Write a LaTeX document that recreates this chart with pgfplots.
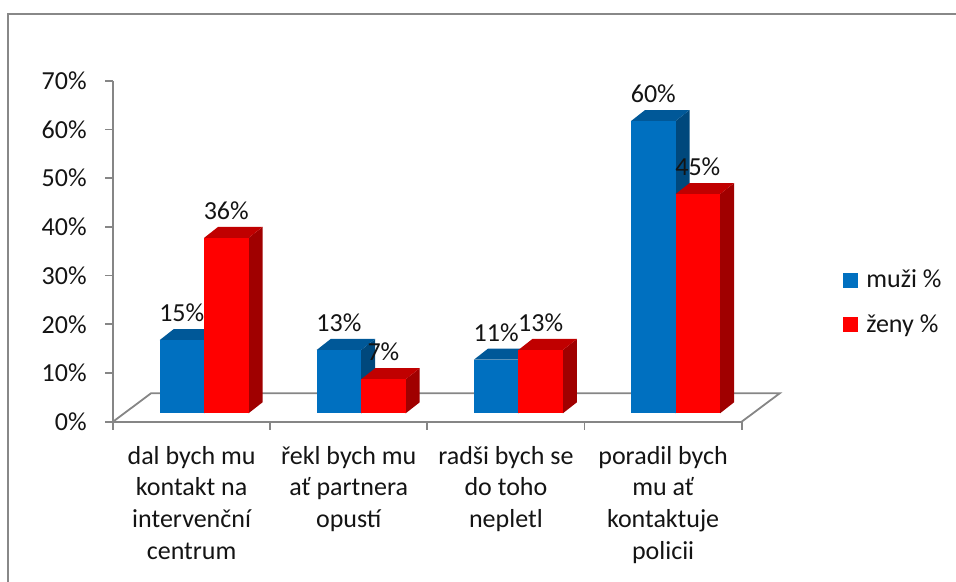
\documentclass[border=0pt]{standalone}
\usepackage{pgfplots}
\usepackage{pgfplotstable}
\pgfplotsset{compat=1.18}
\usepackage{fontspec}
\setmainfont{Carlito}

\definecolor{barblue}{RGB}{0,112,192}
\definecolor{barbluetop}{RGB}{0,88,152}
\definecolor{barblueside}{RGB}{0,72,124}
\definecolor{barred}{RGB}{255,0,0}
\definecolor{barredtop}{RGB}{192,0,0}
\definecolor{barredside}{RGB}{160,0,0}
\definecolor{axisgray}{RGB}{134,134,134}
\definecolor{framegray}{RGB}{136,136,136}
\definecolor{txt}{RGB}{20,20,20}

\newcommand\lblfont{\fontsize{13}{15.85}\selectfont}

\pgfplotstableread{
cat muzi zeny
0 15 36
1 13 7
2 11 13
3 60 45
}\datatable

% 3D prism: #1 category, #2 series index, #3 value, #4 front, #5 top, #6 side
\newcommand\prism[6]{%
  \pgfmathsetmacro\xa{#1+0.2959+0.2831*#2}%
  \pgfmathsetmacro\xb{\xa+0.2831}%
  \pgfmathsetmacro\xc{\xb+0.0891}%
  \pgfmathsetmacro\xd{\xa+0.0891}%
  \pgfmathsetmacro\ya{1.72}%
  \pgfmathsetmacro\yb{1.72+#3}%
  \pgfmathsetmacro\yc{1.72+2.258}%
  \pgfmathsetmacro\yd{1.72+2.258+#3}%
  \edef\doplot{%
    \noexpand\addplot[forget plot, draw=none, fill=#6] coordinates {(\xb,\ya) (\xc,\yc) (\xc,\yd) (\xb,\yb)} -- cycle;%
    \noexpand\addplot[forget plot, draw=none, fill=#5] coordinates {(\xa,\yb) (\xb,\yb) (\xc,\yd) (\xd,\yd)} -- cycle;%
    \noexpand\addplot[forget plot, draw=none, fill=#4] coordinates {(\xa,\ya) (\xb,\ya) (\xb,\yb) (\xa,\yb)} -- cycle;%
  }\doplot
}

\begin{document}
\begin{tikzpicture}
\draw[framegray, line width=1pt] (4pt,-20pt) -- (4pt,284pt) -- (500pt,284pt);
\begin{axis}[
  at={(56.5pt,80.15pt)}, anchor=south west,
  scale only axis, width=314.35pt, height=170.5pt,
  xmin=0, xmax=4, ymin=0, ymax=70,
  clip=false,
  axis x line=bottom, axis y line=left,
  axis line style={draw=axisgray, line width=0.9pt, -},
  tick style={draw=axisgray, line width=0.9pt},
  tick align=outside,
  major tick length=4pt,
  ytick={0,10,...,70},
  yticklabels={0\%,10\%,20\%,30\%,40\%,50\%,60\%,70\%},
  yticklabel style={anchor=east, inner sep=0pt, xshift=-9pt, font=\lblfont, text=txt},
  xtick={0,1,2,3,4},
  xticklabels={},
  extra x ticks={0.5,1.5,2.5,3.5},
  extra x tick labels={{\strut dal bych mu\\kontakt na\\intervenční\\centrum},{\strut řekl bych mu\\ať partnera\\opustí},{\strut radši bych se\\do toho\\nepletl},{\strut poradil bych\\mu ať\\kontaktuje\\policii}},
  extra x tick style={major tick length=0pt},
  xticklabel style={anchor=north, align=center, inner sep=0pt, yshift=-10pt, font=\lblfont, text=txt},
  legend style={at={(1.161,0.3496)}, anchor=west, draw=none, fill=none, inner sep=0pt,
    row sep=12pt, column sep=4pt, font=\lblfont, text=txt, nodes={inner sep=0pt}},
  legend cell align=left,
  legend image code/.code={\fill[#1] (0pt,-3.75pt) rectangle (7.5pt,3.75pt);},
]
\addlegendimage{fill=barblue, draw=none}
\addlegendentry{muži \%}
\addlegendimage{fill=barred, draw=none}
\addlegendentry{ženy \%}

% floor outline
\addplot[forget plot, draw=axisgray, line width=0.9pt] coordinates {(0,0) (0.2418,5.83) (4.2418,5.83) (4,0)};

\pgfplotsinvokeforeach{0,1,2,3}{%
  \pgfplotstablegetelem{#1}{muzi}\of\datatable
  \edef\vm{\pgfplotsretval}%
  \pgfplotstablegetelem{#1}{zeny}\of\datatable
  \edef\vz{\pgfplotsretval}%
  \prism{#1}{0}{\vm}{barblue}{barbluetop}{barblueside}
  \prism{#1}{1}{\vz}{barred}{barredtop}{barredside}
}

\addplot[forget plot, draw=none, point meta=explicit,
  nodes near coords={\pgfmathprintnumber[assume math mode=true]{\pgfplotspointmeta}\%},
  every node near coord/.append style={anchor=base, inner sep=0pt, font=\lblfont, text=txt}]
  table[x expr=\thisrow{cat}+0.2959+0.14155, y expr=\thisrow{muzi}+5.52, meta=muzi] {\datatable};
\addplot[forget plot, draw=none, point meta=explicit,
  nodes near coords={\pgfmathprintnumber[assume math mode=true]{\pgfplotspointmeta}\%},
  every node near coord/.append style={anchor=base, inner sep=0pt, font=\lblfont, text=txt}]
  table[x expr=\thisrow{cat}+0.2959+0.2831+0.14155, y expr=\thisrow{zeny}+5.52, meta=zeny] {\datatable};
\end{axis}
\pgfresetboundingbox
\path[use as bounding box] (0,0) rectangle (478pt,291pt);
\end{tikzpicture}
\end{document}
